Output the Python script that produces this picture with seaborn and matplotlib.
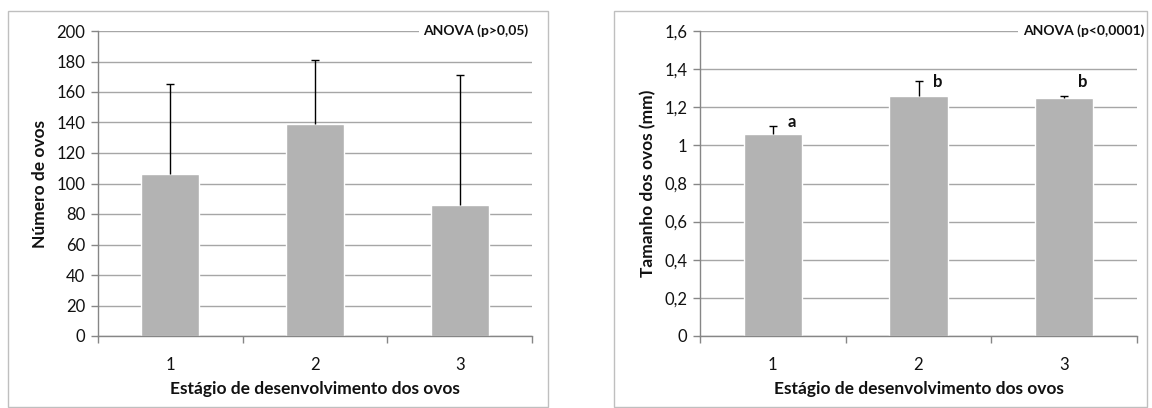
import matplotlib
matplotlib.use("Agg")
import matplotlib.pyplot as plt
import seaborn as sns
import pandas as pd
from matplotlib.patches import Rectangle

# ---- data ----
stages = ["1", "2", "3"]
n_ovos = [106, 139, 86]
n_ovos_sd = [59, 42, 85]
tam_ovos = [1.06, 1.26, 1.25]
tam_ovos_sd = [0.04, 0.08, 0.01]
letters = ["a", "b", "b"]
letter_y = [1.12, 1.33, 1.33]
left_yticks = [0, 20, 40, 60, 80, 100, 120, 140, 160, 180, 200]
right_yticks = [0, 0.2, 0.4, 0.6, 0.8, 1.0, 1.2, 1.4, 1.6]
right_yticklabels = ["0", "0,2", "0,4", "0,6", "0,8", "1", "1,2", "1,4", "1,6"]
xlabel = "Estágio de desenvolvimento dos ovos"

sns.set_theme(style="white")
plt.rcParams['font.family'] = ['Lato', 'DejaVu Sans']

BAR = "#b3b3b3"
GRID = "#a6a6a6"
AX = "#868686"
TXT = "#111111"

fig = plt.figure(figsize=(11.52, 4.08), dpi=100)

def panel(rect_px, ax_px, values, sd, yticks, yticklabels, ylabel, anova, anova_x):
    W, H = 1152, 408
    x0, y0, x1, y1 = rect_px
    fig.patches.append(Rectangle((x0 / W, 1 - y1 / H), (x1 - x0) / W, (y1 - y0) / H,
                                 transform=fig.transFigure, fill=False,
                                 edgecolor="#bfbfbf", lw=1, zorder=0))
    ax0, ay0, ax1, ay1 = ax_px
    ax = fig.add_axes([ax0 / W, 1 - ay1 / H, (ax1 - ax0) / W, (ay1 - ay0) / H])
    df = pd.DataFrame({"stage": stages, "value": values})
    sns.barplot(data=df, x="stage", y="value", color=BAR, width=0.4,
                saturation=1, ax=ax, errorbar=None, zorder=2)
    _, caps, _ = ax.errorbar(range(len(stages)), values, yerr=[[0] * len(sd), sd], fmt="none",
                             ecolor="black", elinewidth=1, capsize=3, capthick=1, zorder=3)
    # keep only the upper caps
    if len(caps) == 2:
        caps[0].set_visible(False)
    ax.set_xlim(-0.5, 2.5)
    ax.set_ylim(yticks[0], yticks[-1])
    ax.set_yticks(yticks)
    ax.set_yticklabels(yticklabels)
    ax.yaxis.grid(True, color=GRID, lw=1)
    ax.set_axisbelow(True)
    for s in ["top", "right"]:
        ax.spines[s].set_visible(False)
    for s in ["left", "bottom"]:
        ax.spines[s].set_color(AX)
        ax.spines[s].set_linewidth(1)
    ax.set_xticks([-0.5, 0.5, 1.5, 2.5], minor=True)
    ax.tick_params(axis="x", which="major", length=0, labelsize=12, pad=15, colors=TXT)
    ax.tick_params(axis="x", which="minor", length=5, color=AX, width=1, direction="out", bottom=True)
    ax.tick_params(axis="y", length=5, color=AX, width=1, direction="out", left=True,
                   labelsize=12, colors=TXT, pad=4)
    ax.set_xlabel(xlabel, fontsize=12.5, fontweight="bold", labelpad=6, color=TXT)
    ax.set_ylabel(ylabel, fontsize=12.5, fontweight="bold", labelpad=6, color=TXT)
    ax.text(anova_x, 1.0, anova, transform=ax.transAxes, ha="right", va="center",
            fontsize=10, fontweight="bold", zorder=5, color=TXT,
            bbox=dict(facecolor="white", edgecolor="none", pad=3), clip_on=False)
    return ax

axL = panel((8, 11, 548, 407), (98, 31, 532, 336), n_ovos, n_ovos_sd,
            left_yticks, [str(v) for v in left_yticks], "Número de ovos",
            "ANOVA (p>0,05)", 0.991)
axR = panel((614, 11, 1147, 407), (700, 31, 1137, 336), tam_ovos, tam_ovos_sd,
            right_yticks, right_yticklabels, "Tamanho dos ovos (mm)",
            "ANOVA (p<0,0001)", 1.016)
for i, (l, ly) in enumerate(zip(letters, letter_y)):
    axR.text(i + 0.13, ly, l, ha="center", va="center", fontsize=12,
             fontweight="bold", zorder=5, color=TXT)

fig.savefig("out.png", dpi=100)
